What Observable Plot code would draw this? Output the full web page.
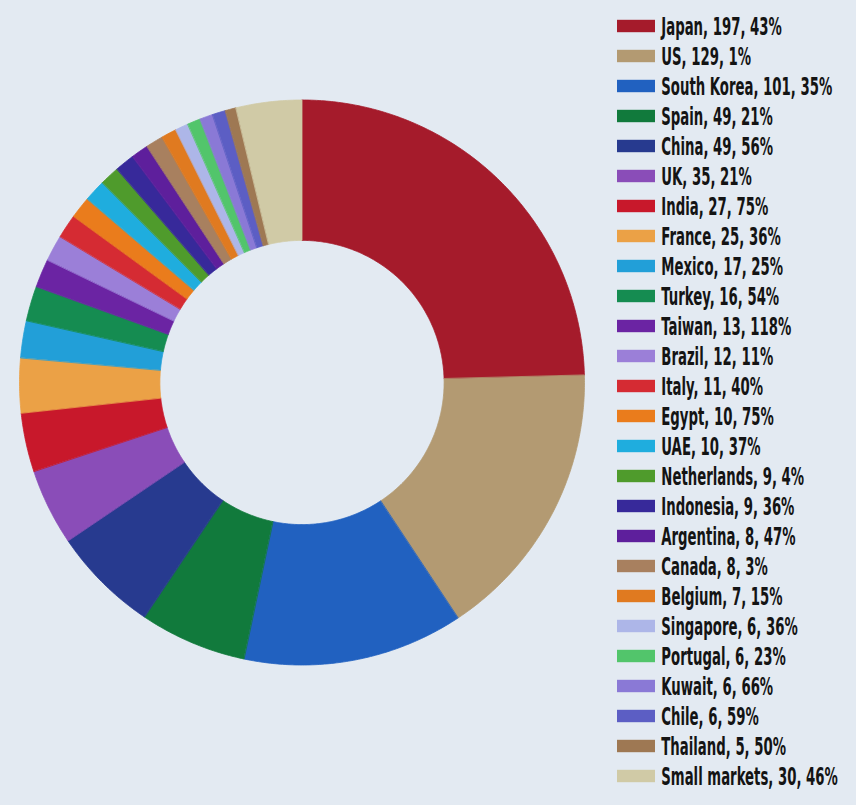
<!DOCTYPE html>
<html><head><meta charset="utf-8">
<script src="https://cdn.jsdelivr.net/npm/d3@7"></script>
<script src="https://cdn.jsdelivr.net/npm/@observablehq/plot@0.6"></script>
<style>
html,body{margin:0;padding:0;background:#e3eaf2;}
#chart{position:relative;width:856px;height:805px;overflow:hidden;background:#e3eaf2;}
#donut{position:absolute;left:0;top:0;width:600px;height:805px;}
#swatches{position:absolute;left:610px;top:0;width:60px;height:805px;}
#labels{position:absolute;left:661px;top:0;width:300px;height:805px;transform-origin:0 0;}
#chart svg{max-width:none !important;}
</style></head><body>
<div id="chart"><div id="donut"></div><div id="swatches"></div><div id="labels"></div></div>
<script>
const markets = ["Japan","US","South Korea","Spain","China","UK","India","France","Mexico","Turkey","Taiwan","Brazil","Italy","Egypt","UAE","Netherlands","Indonesia","Argentina","Canada","Belgium","Singapore","Portugal","Kuwait","Chile","Thailand","Small markets"];
const values = [197,129,101,49,49,35,27,25,17,16,13,12,11,10,10,9,9,8,8,7,6,6,6,6,5,30];
const growth = [43,1,35,21,56,21,75,36,25,54,118,11,40,75,37,4,36,47,3,15,36,23,66,59,50,46];
const colors = ["#a51b2b","#b39a72","#2161c0","#117a3c","#273a8f","#8a4db8","#c8182b","#eba146","#229fd8","#158c51","#6b24a3","#9b7fd8","#d52b33","#ea7c1c","#1fadde","#4f9b2c","#37299a","#5e1f9c","#a8805f","#e07a20","#adb6e8","#52c56b","#8a79d6","#5c5ec4","#9e7853","#d0caa6"];

const color = {domain: markets, range: colors};
const FONT = "'Liberation Sans Narrow','DejaVu Sans Condensed','Roboto Condensed','Liberation Sans',sans-serif";

// donut slice outlines in polar coordinates (unit outer radius)
const total = d3.sum(values);
const inner = 0.503, outer = 1;
const pts = [];
let acc = 0;
markets.forEach((m, i) => {
  const a0 = acc / total * 2 * Math.PI;
  acc += values[i];
  const a1 = acc / total * 2 * Math.PI;
  const n = Math.max(2, Math.ceil((a1 - a0) / (Math.PI / 360)));
  for (let k = 0; k <= n; k++) { const a = a0 + (a1 - a0) * k / n; pts.push({market: m, x: outer * Math.sin(a), y: outer * Math.cos(a)}); }
  for (let k = n; k >= 0; k--) { const a = a0 + (a1 - a0) * k / n; pts.push({market: m, x: inner * Math.sin(a), y: inner * Math.cos(a)}); }
});

const donut = Plot.plot({
  width: 600, height: 805,
  marginLeft: 19, marginRight: 16, marginTop: 99.5, marginBottom: 140.5,
  x: {domain: [-1, 1], axis: null},
  y: {domain: [-1, 1], axis: null},
  color,
  style: {background: "transparent", overflow: "visible", maxWidth: "none"},
  marks: [
    Plot.line(pts, {x: "x", y: "y", z: "market", fill: "market", stroke: "market", strokeWidth: 0.8, curve: "linear-closed"})
  ]
});
document.getElementById("donut").appendChild(donut);

const rows = markets.map((m, i) => ({market: m, label: `${m}, ${values[i]}, ${growth[i]}%`}));

const swatches = Plot.plot({
  width: 60, height: 805,
  marginLeft: 0, marginRight: 0, marginTop: 3.7, marginBottom: 6.7,
  x: {type: "identity", axis: null},
  y: {type: "band", domain: markets, padding: 0, axis: null},
  color,
  style: {background: "transparent", overflow: "visible", maxWidth: "none"},
  marks: [
    Plot.barX(rows, {y: "market", x1: 7, x2: 45, fill: "market", insetTop: 8.8, insetBottom: 8.8})
  ]
});
document.getElementById("swatches").appendChild(swatches);

const labels = Plot.plot({
  width: 300, height: 805,
  marginLeft: 0, marginRight: 0, marginTop: 3.7, marginBottom: 6.7,
  x: {type: "identity", axis: null},
  y: {type: "band", domain: markets, padding: 0, axis: null},
  style: {background: "transparent", overflow: "visible", fontFamily: FONT, maxWidth: "none"},
  marks: [
    Plot.text(rows, {y: "market", x: 0, text: "label", textAnchor: "start", lineAnchor: "middle", fontSize: 25, fontWeight: "bold", fill: "#141414"})
  ]
});
const labelsDiv = document.getElementById("labels");
labelsDiv.appendChild(labels);
const ref = labels.querySelectorAll("text")[2];
if (ref) {
  const w = ref.getBBox().width;
  if (w > 0) {
    const k = Math.max(0.55, Math.min(1.2, 171 / w));
    labelsDiv.style.transform = `scaleX(${k})`;
  }
}
</script>
</body></html>
